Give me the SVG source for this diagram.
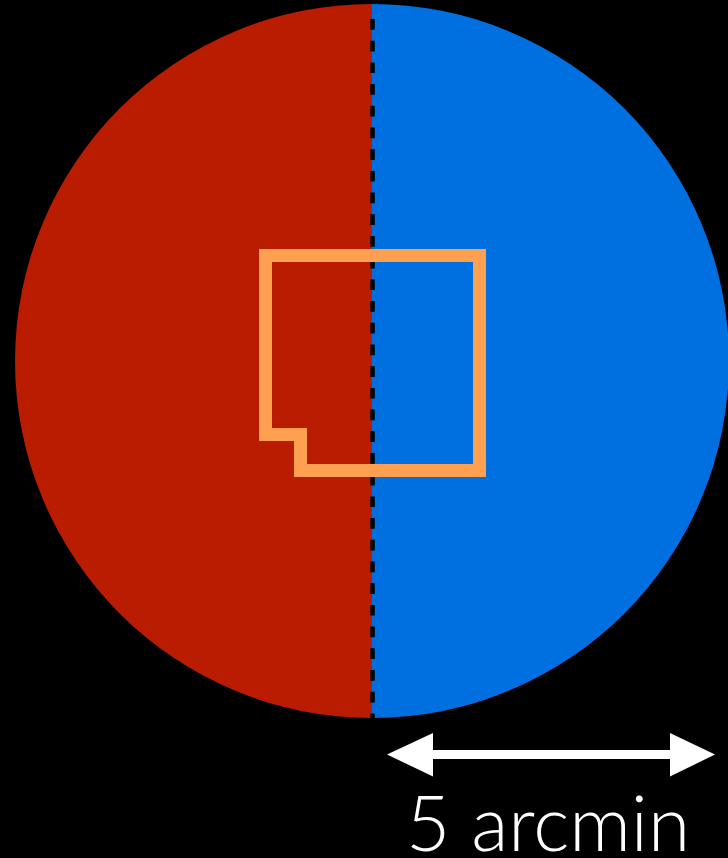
<svg xmlns="http://www.w3.org/2000/svg" width="728" height="858" viewBox="0 0 728 858">
<style>
.lbl{font-family:Lato,"Open Sans","Liberation Sans",sans-serif;font-weight:300;fill:#ffffff}
</style>
<defs>
<clipPath id="cc"><circle cx="372" cy="361" r="357"/></clipPath>
</defs>
<rect width="728" height="858" fill="#000000"/>
<g id="field" clip-path="url(#cc)">
<rect x="0" y="0" width="372" height="720" fill="#B91C00"/>
<rect x="372" y="0" width="360" height="720" fill="#0070E0"/>
</g>
<g id="divider">
<line x1="372.5" y1="8" x2="372.5" y2="718" stroke="#000000" stroke-width="4.5" stroke-dasharray="10.7 11" stroke-dashoffset="-11"/>
</g>
<g id="footprint">
<polygon points="265.5,255.5 479.5,255.5 479.5,470.5 300.5,470.5 300.5,434.5 265.5,434.5" fill="none" stroke="#FF9F50" stroke-width="13" stroke-linejoin="miter"/>
</g>
<g id="scalebar">
<line x1="428" y1="754.5" x2="675" y2="754.5" stroke="#ffffff" stroke-width="9"/>
<polygon points="387,754.5 433,733 433,776.5" fill="#ffffff"/>
<polygon points="715,754.5 670,733 670,776.5" fill="#ffffff"/>
<text class="lbl" x="406" y="851" font-size="77" textLength="284" lengthAdjust="spacingAndGlyphs">5 arcmin</text>
</g>
</svg>
